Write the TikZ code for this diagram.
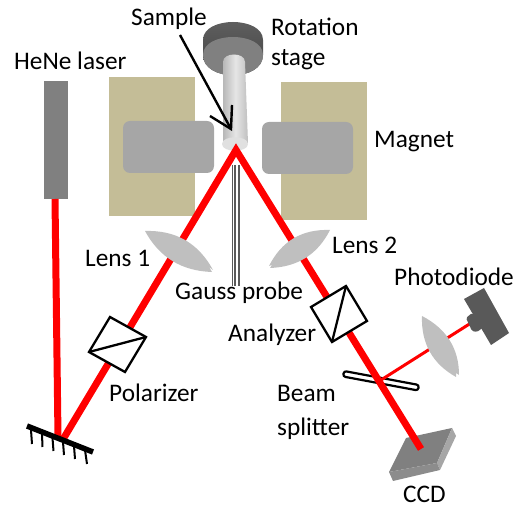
\documentclass[tikz,border=0pt]{standalone}
\usepackage{fontspec}
\setmainfont{Carlito}
\usetikzlibrary{calc}
\definecolor{tan1}{HTML}{C4BD97}
\definecolor{poleg}{HTML}{A6A6A6}
\definecolor{lensg}{HTML}{BFBFBF}
\definecolor{pdg}{HTML}{595959}
\tikzset{
  lbl/.style={anchor=west,inner sep=0pt,font=\fontsize{25.3}{28}\selectfont,text=black},
  magnet/.style={fill=tan1,draw=none},
  pole/.style={fill=poleg,draw=none,rounded corners=7pt},
  beam/.style={draw=red,line width=7pt},
  thinbeam/.style={draw=red,line width=3pt},
  cube/.style={draw=black,line width=2.3pt,fill=white,line join=miter},
  lensf/.style={fill=lensg,draw=none},
  tooth/.style={draw=black,line width=2pt},
}
\begin{document}
\begin{tikzpicture}[x=1pt,y=-1pt]
\useasboundingbox (0,0) rectangle (528,510);
% magnet
\fill[magnet] (109,77) rectangle (195,216);
\fill[magnet] (281,82) rectangle (367,220);
\fill[pole] (123,121) rectangle (214,173);
\fill[pole] (262,122) rectangle (353,174);
% laser
\fill[black!50] (44,81) rectangle (68,199);
% stage
\path[top color=black!62,bottom color=black!75] (203,40) .. controls (203,16) and (263,16) .. (263,40) -- (263,55) .. controls (263,82) and (203,82) .. (203,55) -- cycle;
\fill[black!50] (203,55) .. controls (203,31) and (263,31) .. (263,55) .. controls (263,82) and (203,82) .. (203,55) -- cycle;
% rod
\shade[left color=black!28,right color=black!25,middle color=black!10] (223,62) .. controls (223,52) and (245,52) .. (245,62) -- (248,143) -- (223,143) -- cycle;
\fill[black!12] (222,144) .. controls (222,135) and (248,135) .. (248,144) .. controls (248,153) and (222,153) .. (222,144) -- cycle;
% gauss probe
\coordinate (gt) at (236.5,165);
\coordinate (gb) at (236.5,286);
\draw[black!65,line width=.9pt] ($(gt)+(-4.3,0)$) -- ($(gb)+(-4.3,0)$);
\draw[black!65,line width=2.4pt] ($(gt)+(-1.5,0)$) -- ($(gb)+(-1.5,0)$);
\draw[black!65,line width=2.4pt] ($(gt)+(2.6,0)$) -- ($(gb)+(2.6,0)$);
% beams
\coordinate (apex) at (236,150);
\coordinate (laserbot) at (55,199);
\coordinate (grat) at (58,437);
\coordinate (gratout) at (62,441);
\coordinate (ccdhit) at (421,449);
\coordinate (bs) at (381,380);
\coordinate (pd) at (471,323);
% CCD
\fill[black!50] (406,438) -- (452,428) -- (437,463) -- (389,472) -- cycle;
\fill[black!35] (452,428) -- (456,436) -- (440,470) -- (437,463) -- cycle;
\fill[black!45] (389,472) -- (437,463) -- (440,470) -- (393,481) -- cycle;
% beam splitter
\draw[black,line width=2.2pt,fill=white,rounded corners=2.5pt] (344,371) -- (419,385) -- (418,390.5) -- (343,376.5) -- cycle;
\draw[beam] (laserbot) -- (grat);
\draw[beam,line join=miter,miter limit=10] (gratout) -- (apex) -- (ccdhit);
\draw[thinbeam] (bs) -- (pd);
% sample arrow
\coordinate (arrs) at (180,35);
\coordinate (arre) at (231,129);
\draw[black,line width=2.4pt] (arrs) -- (arre);
\draw[black,line width=2.4pt,line join=miter] (232,105) -- (arre) -- (210,116);
% lenses
\fill[lensf] (145,231) .. controls (175.7,230) and (198.3,243) .. (213,270) -- (209,267) -- (212,272) .. controls (182.3,271) and (159.7,258) .. (145,231) -- cycle;
\fill[lensf] (330,230) .. controls (302,229) and (281.6,241) .. (269,266) -- (272,265) -- (270,268) .. controls (297,267) and (317.4,255) .. (330,230) -- cycle;
\fill[lensf] (422,316) .. controls (447,329) and (459,349) .. (459,375) -- (456,373) -- (456,377) .. controls (433,364) and (421,344) .. (422,316) -- cycle;
% cubes
\draw[cube] (110,317) -- (146,337) -- (125,372) -- (89,352) -- cycle;
\draw[black,line width=2.3pt] (89,352) -- (146,337);
\draw[cube] (311,307) -- (346,286) -- (367,321) -- (332,342) -- cycle;
\draw[black,line width=2.3pt] (346,286) -- (332,342);
% photodiode
\fill[pdg] (464,299) -- (484,288) -- (509,333) -- (491,345) -- cycle;
\fill[pdg,rounded corners=1.5pt] (466,318) -- (472,313) -- (485,326) -- (477,332) -- (472,331) -- cycle;
% grating
\draw[black,line width=5.5pt] (27,426) -- (93,452);
\foreach \xa/\ya/\xb/\yb in {31/430/32/444, 42/434/42.5/447, 52.5/438/53.5/451, 63/442/64/455, 74/446/75/459, 85/450/87/464}{
  \draw[tooth] (\xa,\ya) -- (\xb,\yb);
}
% labels
\node[lbl] (sample) at (131,19) {Sample};
\node[lbl] (rot) at (271,27) {Rotation};
\node[lbl] (stage) at (271,60) {stage};
\node[lbl] (hene) at (14,61) {HeNe laser};
\node[lbl] (mag) at (374,142) {Magnet};
\node[lbl] (l1) at (85,258) {Lens 1};
\node[lbl] (l2) at (332,245) {Lens 2};
\node[lbl] (gauss) at (175,293) {Gauss probe};
\node[lbl] (photo) at (394,277) {Photodiode};
\node[lbl] (ana) at (228,335) {Analyzer};
\node[lbl] (pol) at (109,393) {Polarizer};
\node[lbl] (beamlbl) at (277,393) {Beam};
\node[lbl] (split) at (277,429) {splitter};
\node[lbl] (ccd) at (403,494) {CCD};
\end{tikzpicture}
\end{document}
